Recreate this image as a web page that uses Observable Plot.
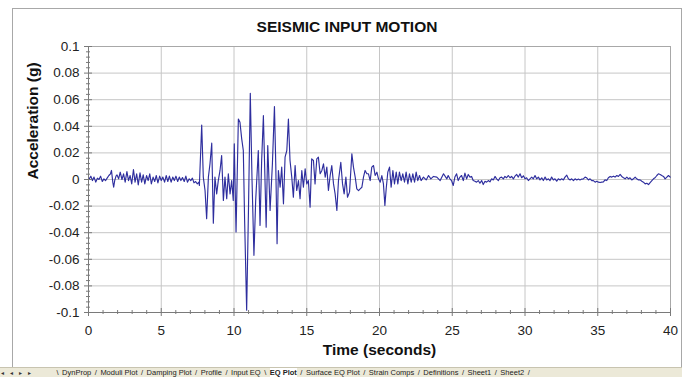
<!DOCTYPE html>
<html><head><meta charset="utf-8">
<script src="https://cdn.jsdelivr.net/npm/d3@7"></script>
<script src="https://cdn.jsdelivr.net/npm/@observablehq/plot@0.6"></script>
<style>
html,body{margin:0;padding:0;background:#fff;}
#wrap{position:relative;width:688px;height:377px;overflow:hidden;font-family:"Liberation Sans",Arial,sans-serif;}
#border{position:absolute;left:12px;top:8px;width:670px;height:360px;border:1px solid #a8a8a8;border-bottom:none;box-sizing:border-box;}
#title{position:absolute;left:12px;width:670px;top:18px;text-align:center;font-weight:bold;font-size:15.5px;color:#111;}
#chart{position:absolute;left:0;top:0;}
#tabs{position:absolute;left:0;top:367px;width:682px;height:10px;background:#ece9d8;font-size:7.5px;line-height:10px;white-space:nowrap;color:#222;border-top:1px solid #c8c4b0;box-sizing:border-box;padding-left:1px;}
#tabs .nav{display:inline-block;width:52px;letter-spacing:6px;font-size:6px;color:#333;}
#tabs .sep{display:inline-block;margin:0 3.5px;}
#tabs b{background:#fff;}
</style>
</head><body>
<div id="wrap">
  <div id="border"></div>
  <div id="title"></div>
  <div id="chart"></div>
  <div id="tabs"></div>
</div>
<script>
const chartTitle = "SEISMIC INPUT MOTION";
const xLabel = "Time (seconds)";
const yLabel = "Acceleration (g)";
const xTicks = [0, 5, 10, 15, 20, 25, 30, 35, 40];
const yTicks = [-0.1, -0.08, -0.06, -0.04, -0.02, 0, 0.02, 0.04, 0.06, 0.08, 0.1];
const sheetTabs = ["DynProp", "Moduli Plot", "Damping Plot", "Profile", "Input EQ", "EQ Plot", "Surface EQ Plot", "Strain Comps", "Definitions", "Sheet1", "Sheet2"];
const activeTab = "EQ Plot";

// pre-event noise
const quietTime = [0.05,0.16,0.27,0.38,0.50,0.61,0.72,0.83,0.95,1.06,1.17,1.28,1.40,1.51,1.58,1.67,1.73,1.80,1.89,1.96,2.07,2.18,2.30,2.41,2.52,2.64,2.75,2.86,2.97,3.09,3.20,3.31,3.42,3.54,3.65,3.76,3.87,3.99,4.10,4.21,4.32,4.44,4.55,4.66,4.77,4.89,5.00,5.11,5.23,5.34,5.45,5.56,5.68,5.79,5.90,6.01,6.13,6.24,6.35,6.46,6.58,6.69,6.80,6.92,7.03,7.14,7.25,7.36,7.48,7.59];
const quietAccel = [0.0005,0.0025,-0.0008,0.0018,-0.002,0.001,0,0.0025,-0.0015,0.0005,-0.0008,0.001,0.003,0.0043,0.0068,-0.002,-0.0058,-0.0008,0.0025,0.0035,0.0005,0.0055,0,0.0043,-0.002,0.006,-0.0008,0.003,-0.0033,0.0075,-0.002,0.0043,-0.004,0.005,-0.002,0.0035,-0.0033,0.003,-0.0008,0.0043,-0.0033,0.0018,-0.0015,0.003,-0.0025,0.0025,-0.0008,0.0018,-0.002,0.003,-0.0015,0.0025,-0.002,0.0018,-0.0008,0.0025,-0.0015,0.0018,-0.0008,0.0015,-0.0015,0.0025,-0.002,0.0005,-0.0008,0.001,-0.0025,-0.0015,-0.0033,-0.002];

// strong motion
const strongTime = [7.62,7.78,7.89,8.01,8.12,8.24,8.35,8.47,8.58,8.69,8.81,8.92,9.04,9.15,9.27,9.38,9.50,9.61,9.73,9.84,9.95,10.02,10.14,10.30,10.41,10.53,10.64,10.73,10.87,10.99,11.12,11.24,11.37,11.49,11.67,11.79,11.90,12.02,12.21,12.32,12.48,12.64,12.78,12.87,12.96,13.05,13.17,13.28,13.40,13.51,13.63,13.74,13.85,13.97,14.08,14.20,14.31,14.43,14.54,14.66,14.77,14.89,15.00,15.11,15.23,15.34,15.46,15.57,15.69,15.80,15.92];
const strongAccel = [-0.0045,0.041,0.0018,-0.0083,-0.0295,0.0018,0.0118,0.0273,-0.0328,0.0018,-0.0108,-0.0008,0.0068,0.018,-0.0158,0.0018,-0.0145,0.0043,-0.0108,-0.0008,-0.0158,0.0268,-0.0395,0.0455,0.043,0.0305,0.0218,-0.0308,-0.0983,-0.0258,0.0648,-0.0008,-0.057,-0.0158,0.0218,-0.0345,0.0143,0.048,-0.0358,0.0255,-0.0233,0.0118,0.0548,0.0118,-0.0483,0.0068,-0.0058,0.0093,-0.0183,0.0168,0.0218,0.0455,0.0143,0.0018,-0.0133,0.0105,-0.0083,-0.0008,-0.0145,0.0068,-0.0058,0.008,-0.0033,-0.0008,-0.0208,0.0155,0.0143,-0.0033,0.0155,0.0168,0.0043];

// coda
const codaTime = [16.04,16.15,16.27,16.38,16.49,16.61,16.72,16.84,16.95,17.07,17.18,17.34,17.46,17.57,17.69,17.80,17.94,18.10,18.21,18.33,18.44,18.56,18.67,18.79,18.90,19.01,19.13,19.24,19.36,19.47,19.59,19.70,19.82,19.93,20.05,20.16,20.27,20.37,20.46,20.57,20.69,20.80,20.92,21.03,21.15,21.26,21.37,21.49,21.60,21.72,21.83,21.95,22.06,22.18,22.29,22.41,22.52,22.63,22.75,22.86,23.02,23.21,23.37,23.53,23.71,23.94,24.17,24.40,24.63];
const codaAccel = [0.0068,0.0118,0.0018,0.0093,-0.0083,0.003,0.0105,-0.0033,-0.0108,-0.0233,-0.0008,0.013,-0.0033,-0.0108,0.0018,-0.0133,-0.0095,0.0193,0.0093,0.0018,-0.007,-0.0083,-0.007,-0.0058,0.0018,0.0068,0.0043,0.0043,-0.0008,0.0093,0.0105,0.003,0.0055,0.0005,-0.002,0.003,-0.0033,-0.0195,-0.007,0.0055,0.0093,-0.0058,0.0068,-0.0033,0.0055,-0.0033,0.0055,-0.0008,0.0043,-0.002,0.0055,-0.0033,0.0043,-0.002,0.0043,-0.002,0.0055,-0.0008,0.003,-0.0008,0.0018,-0.0003,0.003,0.0005,0.0023,0.0018,-0.0008,0.0043,0.0005];

// tail
const tailTime = [24.72,24.84,24.95,25.07,25.18,25.30,25.41,25.53,25.64,25.76,25.87,25.99,26.10,26.22,26.33,26.44,26.56,26.67,26.79,26.90,27.02,27.13,27.25,27.36,27.48,27.59,27.71,27.82,27.94,28.05,28.17,28.28,28.39,28.51,28.62,28.74,28.85,28.97,29.08,29.20,29.31,29.43,29.54,29.66,29.77,29.89,30.00,30.11,30.23,30.34,30.46,30.57,30.69,30.80,30.92,31.03,31.15,31.26,31.38,31.49,31.61,31.72,31.83,31.95,32.06,32.18,32.29,32.41,32.52,32.64,32.75,32.87,32.98,33.10,33.21,33.33,33.44,33.56,33.67,33.78,33.90,34.01,34.13,34.24,34.36,34.47,34.59,34.70,34.82,34.93,35.05,35.16,35.28,35.39,35.50,35.62,35.73,35.85,35.96,36.08,36.19,36.31,36.42,36.54,36.65,36.77,36.88,37.00,37.11,37.22,37.34,37.45,37.57,37.68,37.80,37.91,38.03,38.14,38.26,38.37,38.49,38.60,38.72,38.83,38.94,39.06,39.17,39.29,39.40,39.52,39.63,39.75,39.86,39.98];
const tailAccel = [0.003,0.0005,-0.0008,-0.0045,0.0018,0.0043,-0.0008,0.0018,0.003,-0.0008,0.0048,0.0005,0.0038,0.0018,0.0023,-0.0008,-0.0013,-0.002,-0.0008,-0.0028,-0.0008,-0.0038,-0.0013,-0.002,-0.0008,-0.0018,0.0005,-0.0003,0.0023,0.0005,-0.0008,0.0013,0.0018,0.0005,0.0023,0.0013,0.003,0.0013,0.0023,0.0005,0.0025,0.0038,0.0018,0.0043,0.0013,0.0028,0.0005,0.0013,-0.0008,0.0005,0.0018,0.0005,0.003,0.0005,0.0018,-0.0003,0.0013,-0.0008,0.0018,-0.0003,0.0005,-0.0008,0.0018,-0.0003,0.0005,-0.0013,0.0005,-0.0003,0.0005,-0.0003,0.0018,0.0033,0.0005,-0.0003,0.0005,-0.0008,0.0005,-0.0003,0.0003,-0.0003,0.0003,0.0005,0.0018,0.0013,-0.0003,0.0005,-0.0008,-0.0008,-0.002,-0.0013,-0.002,-0.0023,-0.002,-0.0018,-0.0003,-0.0008,0.0013,0.0023,0.0018,0.0025,0.0018,0.003,0.0023,0.0038,0.0023,0.0013,0.0005,0.0018,0.0005,0.0013,-0.0003,0.0005,0.0018,0.0005,-0.0003,-0.0003,-0.0013,-0.002,-0.0033,-0.0028,-0.0038,-0.0023,-0.0008,0.0005,0.0013,0.003,0.0043,0.0038,0.003,0.0023,0.0005,0.0018,0.003,0.0018];

const segments = [[quietTime, quietAccel], [strongTime, strongAccel], [codaTime, codaAccel], [tailTime, tailAccel]];
const data = [];
for (const [ts, as] of segments) {
  const n = Math.min(ts.length, as.length);
  for (let i = 0; i < n; i++) data.push({t: ts[i], a: as[i]});
}

const xMinor = d3.range(0, 41, 1).filter(v => v % 5 !== 0);
const yMinor = d3.range(-100, 101, 4).map(v => v / 1000).filter(v => Math.abs(Math.round(v * 1000)) % 20 !== 0);
const fmtY = d => String(+d.toFixed(2));
const font = '"Liberation Sans", Arial, sans-serif';
const axisColor = "#7a7a7a";

document.getElementById("title").textContent = chartTitle;

const plot = Plot.plot({
  width: 688, height: 367,
  marginLeft: 88, marginRight: 18, marginTop: 46, marginBottom: 55,
  x: {domain: [0, 40], axis: null},
  y: {domain: [-0.1, 0.1], axis: null},
  style: {fontFamily: font, fontSize: "13.5px", color: "#222", background: "transparent", overflow: "visible"},
  marks: [
    Plot.gridX(xTicks, {stroke: "#c6c6c6", strokeOpacity: 1}),
    Plot.gridY(yTicks, {stroke: "#c6c6c6", strokeOpacity: 1}),
    Plot.frame({stroke: "#a8a8a8"}),
    Plot.line(data, {x: "t", y: "a", stroke: "#2e2e9e", strokeWidth: 1.15}),
    Plot.ruleX([0], {stroke: axisColor}),
    Plot.ruleY([-0.1], {stroke: axisColor}),
    Plot.axisX(xMinor, {label: null, tickSize: 4, dy: -2, tickFormat: () => "", stroke: axisColor}),
    Plot.axisX(xTicks, {label: null, tickSize: 8, dy: -4, tickFormat: () => "", stroke: axisColor}),
    Plot.axisX(xTicks, {label: null, tickSize: 0, tickPadding: 13, tickFormat: d => String(d), fill: "#222"}),
    Plot.axisY(yMinor, {label: null, tickSize: 4, dx: 2, tickFormat: () => "", stroke: axisColor}),
    Plot.axisY(yTicks, {label: null, tickSize: 8, dx: 4, tickFormat: () => "", stroke: axisColor}),
    Plot.axisY(yTicks, {label: null, tickSize: 0, tickPadding: 9, tickFormat: fmtY, fill: "#222"}),
    Plot.text([yLabel], {text: d => d, frameAnchor: "left", dx: -55, rotate: -90, fontWeight: "bold", fontSize: 15.5, fill: "#111"}),
    Plot.text([xLabel], {text: d => d, frameAnchor: "bottom", dy: 42, fontWeight: "bold", fontSize: 15.5, fill: "#111"})
  ]
});
document.getElementById("chart").appendChild(plot);

const tabs = document.getElementById("tabs");
const nav = document.createElement("span");
nav.className = "nav";
nav.textContent = "\u25C2\u25C2\u25B8\u25B8";
tabs.appendChild(nav);
sheetTabs.forEach((name, i) => {
  const sep = document.createElement("span");
  sep.className = "sep";
  sep.textContent = (name === activeTab || i === 0) ? "\\" : "/";
  tabs.appendChild(sep);
  const el = document.createElement(name === activeTab ? "b" : "span");
  el.textContent = name;
  tabs.appendChild(el);
});
const last = document.createElement("span");
last.className = "sep";
last.textContent = "/";
tabs.appendChild(last);
</script>
</body></html>
